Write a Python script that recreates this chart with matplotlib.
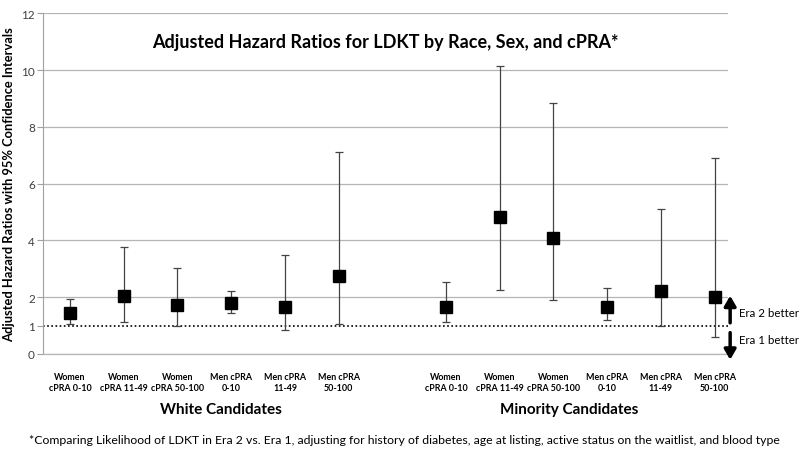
import matplotlib
matplotlib.use('Agg')
import matplotlib.pyplot as plt
import numpy as np

plt.rcParams['font.family'] = ['Lato', 'DejaVu Sans']

# 카테고리 / 그룹
CATEGORIES = ['Women\ncPRA 0-10', 'Women\ncPRA 11-49', 'Women\ncPRA 50-100',
              'Men cPRA\n0-10', 'Men cPRA\n11-49', 'Men cPRA\n50-100']
GROUPS = ['White Candidates', 'Minority Candidates']

# 위험비 + 95% CI
WHITE_HR = [1.44, 2.04, 1.71, 1.81, 1.67, 2.76]
WHITE_LO = [1.06, 1.11, 0.97, 1.45, 0.85, 1.06]
WHITE_HI = [1.92, 3.76, 3.03, 2.23, 3.49, 7.10]
MINOR_HR = [1.65, 4.81, 4.10, 1.65, 2.23, 2.02]
MINOR_LO = [1.11, 2.27, 1.91, 1.18, 0.98, 0.60]
MINOR_HI = [2.53, 10.13, 8.83, 2.34, 5.10, 6.91]

TITLE = 'Adjusted Hazard Ratios for LDKT by Race, Sex, and cPRA*'
YLABEL = 'Adjusted Hazard Ratios with 95% Confidence Intervals'
FOOTNOTE = ('*Comparing Likelihood of LDKT in Era 2 vs. Era 1, adjusting for history of diabetes, '
            'age at listing, active status on the waitlist, and blood type')

fig = plt.figure(figsize=(8.0, 4.56), dpi=100)
ax = fig.add_axes([0.054, 0.2215, 0.856, 0.7471])

pos_w = np.arange(6)
pos_m = np.arange(6) + 7
for pos, hr, lo, hi in [(pos_w, WHITE_HR, WHITE_LO, WHITE_HI),
                        (pos_m, MINOR_HR, MINOR_LO, MINOR_HI)]:
    hr = np.array(hr)
    err = [hr - np.array(lo), np.array(hi) - hr]
    ax.errorbar(pos, hr, yerr=err, fmt='none', ecolor='#444444', elinewidth=0.9,
                capsize=3, capthick=0.9, zorder=3)
    ax.plot(pos, hr, 's', color='black', ms=9, zorder=4)

# 기준선 HR=1
ax.axhline(1, color='black', ls=(0, (1, 1.5)), lw=1.2, zorder=2)

ax.set_xlim(-0.5, 12.25)
ax.set_ylim(0, 12)
ax.set_yticks(range(0, 13, 2))
ax.set_yticks([1], minor=True)
ax.set_yticklabels([str(v) for v in range(0, 13, 2)])
ax.set_yticklabels(['1'], minor=True)
ax.tick_params(axis='y', which='both', labelsize=8.5, labelcolor='#404040', color='#a0a0a0',
               length=4, width=0.8, direction='out', pad=2)
ax.grid(axis='y', color='#b5b5b5', lw=0.9, zorder=0)
ax.set_xticks([])
for s in ['top', 'right']:
    ax.spines[s].set_visible(False)
ax.spines['left'].set_color('#a0a0a0')
ax.spines['bottom'].set_color('#b5b5b5')
ax.spines['bottom'].set_linewidth(0.9)

ax.set_ylabel(YLABEL, fontsize=9.3, fontweight='bold')
ax.yaxis.set_label_coords(-0.041, 0.5)
ax.text(0.499, 0.918, TITLE, transform=ax.transAxes, ha='center', va='center',
        fontsize=13, fontweight='bold')

# 카테고리 라벨
for pos in (pos_w, pos_m):
    for p, lbl in zip(pos, CATEGORIES):
        ax.text(p, -0.62, lbl, ha='center', va='top', fontsize=6.4, fontweight='bold',
                linespacing=1.4, clip_on=False)
ax.text(2.8, -1.95, GROUPS[0], ha='center', va='center', fontsize=11,
        fontweight='bold', clip_on=False)
ax.text(9.3, -1.95, GROUPS[1], ha='center', va='center', fontsize=11,
        fontweight='bold', clip_on=False)

# Era 화살표
ax.annotate('', xy=(12.29, 2.15), xytext=(12.29, 1.0),
            arrowprops=dict(arrowstyle='-|>,head_width=0.35,head_length=0.6',
                            color='black', lw=2.5), annotation_clip=False)
ax.annotate('', xy=(12.29, -0.3), xytext=(12.29, 0.85),
            arrowprops=dict(arrowstyle='-|>,head_width=0.35,head_length=0.6',
                            color='black', lw=2.5), annotation_clip=False)
ax.text(12.45, 1.45, 'Era 2 better', ha='left', va='center', fontsize=8.3, clip_on=False)
ax.text(12.45, 0.5, 'Era 1 better', ha='left', va='center', fontsize=8.3, clip_on=False)

fig.text(0.505, 0.035, FOOTNOTE, ha='center', va='center', fontsize=8.8)

fig.savefig('out.png', dpi=100)
